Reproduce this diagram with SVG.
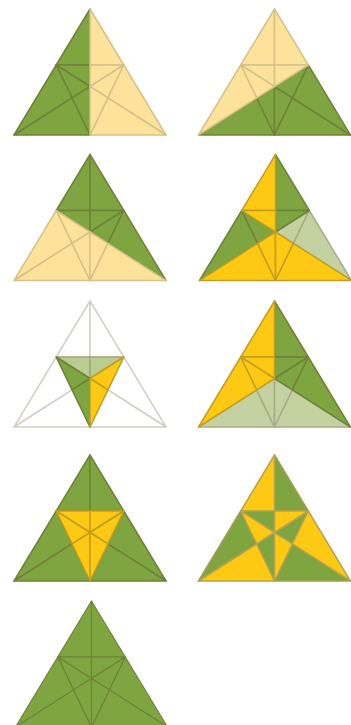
<svg xmlns="http://www.w3.org/2000/svg" width="351" height="725" viewBox="0 0 351 725">
<style>
use{stroke-width:1.5;stroke-linejoin:round}
.g{fill:#7ea53f;stroke:#6f8338}
.p{fill:#fde29b;stroke:#d6c288}
.y{fill:#fdc913;stroke:#c29f22}
.l{fill:#c3d2a0;stroke:#aaac88}
.m{fill:#bbcc90;stroke:#a3a882}
.w{fill:#fff;stroke:#d3cfc4}
.g8{fill:#7ea53f;stroke:#a49c58}
.y8{fill:#fdc913;stroke:#b5a34e}
.t{fill:#7ea53f;stroke:#6d8238;stroke-width:1.1}
</style>
<defs>
<polygon id="ALE" points="0,0 -33.8,56 0,56"/>
<polygon id="AER" points="0,0 0,56 33.8,56"/>
<polygon id="LEO" points="-33.8,56 0,56 0,77.5"/>
<polygon id="ERO" points="0,56 33.8,56 0,77.5"/>
<polygon id="LOP" points="-33.8,56 0,77.5 -17.9,88.9"/>
<polygon id="ROQ" points="33.8,56 0,77.5 17.9,88.9"/>
<polygon id="BLP" points="-76,126 -33.8,56 -17.9,88.9"/>
<polygon id="CRQ" points="76,126 33.8,56 17.9,88.9"/>
<polygon id="BPD" points="-76,126 -17.9,88.9 0,126"/>
<polygon id="CQD" points="76,126 17.9,88.9 0,126"/>
<polygon id="POD" points="-17.9,88.9 0,77.5 0,126"/>
<polygon id="QOD" points="17.9,88.9 0,77.5 0,126"/>
</defs>
<g id="panel-1" transform="translate(90,9)">
<use href="#ALE" class="g"/><use href="#LEO" class="g"/><use href="#LOP" class="g"/><use href="#BLP" class="g"/><use href="#BPD" class="g"/><use href="#POD" class="g"/>
<use href="#AER" class="p"/><use href="#ERO" class="p"/><use href="#ROQ" class="p"/><use href="#CRQ" class="p"/><use href="#CQD" class="p"/><use href="#QOD" class="p"/>
</g>
<g id="panel-2" transform="translate(274.5,9)">
<use href="#BPD" class="g"/><use href="#POD" class="g"/><use href="#QOD" class="g"/><use href="#CQD" class="g"/><use href="#CRQ" class="g"/><use href="#ROQ" class="g"/>
<use href="#ALE" class="p"/><use href="#AER" class="p"/><use href="#LEO" class="p"/><use href="#ERO" class="p"/><use href="#LOP" class="p"/><use href="#BLP" class="p"/>
</g>
<g id="panel-3" transform="translate(90,154.5)">
<use href="#ALE" class="g"/><use href="#AER" class="g"/><use href="#LEO" class="g"/><use href="#ERO" class="g"/><use href="#ROQ" class="g"/><use href="#CRQ" class="g"/>
<use href="#LOP" class="p"/><use href="#BLP" class="p"/><use href="#BPD" class="p"/><use href="#POD" class="p"/><use href="#QOD" class="p"/><use href="#CQD" class="p"/>
</g>
<g id="panel-4" transform="translate(275.5,154.5)">
<use href="#ROQ" class="l"/><use href="#CRQ" class="l"/>
<use href="#AER" class="g"/><use href="#ERO" class="g"/><use href="#BLP" class="g"/><use href="#LOP" class="g"/>
<use href="#ALE" class="y"/><use href="#LEO" class="y"/><use href="#BPD" class="y"/><use href="#POD" class="y"/><use href="#QOD" class="y"/><use href="#CQD" class="y"/>
</g>
<g id="panel-5" transform="translate(90,301)">
<use href="#ALE" class="w"/><use href="#AER" class="w"/><use href="#BLP" class="w"/><use href="#BPD" class="w"/><use href="#CRQ" class="w"/><use href="#CQD" class="w"/>
<use href="#LEO" class="m"/><use href="#ERO" class="m"/>
<use href="#LOP" class="g"/><use href="#POD" class="g"/>
<use href="#ROQ" class="y"/><use href="#QOD" class="y"/>
</g>
<g id="panel-6" transform="translate(274.5,301)">
<use href="#BPD" class="l"/><use href="#POD" class="l"/><use href="#QOD" class="l"/><use href="#CQD" class="l"/>
<use href="#AER" class="g"/><use href="#ERO" class="g"/><use href="#ROQ" class="g"/><use href="#CRQ" class="g"/>
<use href="#ALE" class="y"/><use href="#LEO" class="y"/><use href="#LOP" class="y"/><use href="#BLP" class="y"/>
</g>
<g id="panel-7" transform="translate(90,455)">
<use href="#ALE" class="g"/><use href="#AER" class="g"/><use href="#BLP" class="g"/><use href="#BPD" class="g"/><use href="#CRQ" class="g"/><use href="#CQD" class="g"/>
<use href="#LEO" class="y"/><use href="#ERO" class="y"/><use href="#LOP" class="y"/><use href="#ROQ" class="y"/><use href="#POD" class="y"/><use href="#QOD" class="y"/>
</g>
<g id="panel-8" transform="translate(274.5,455)">
<use href="#AER" class="g8"/><use href="#LEO" class="g8"/><use href="#ROQ" class="g8"/><use href="#BLP" class="g8"/><use href="#CQD" class="g8"/><use href="#POD" class="g8"/>
<use href="#ALE" class="y8"/><use href="#ERO" class="y8"/><use href="#LOP" class="y8"/><use href="#CRQ" class="y8"/><use href="#BPD" class="y8"/><use href="#QOD" class="y8"/>
</g>
<g id="panel-9" transform="translate(91.5,601)">
<use href="#ALE" class="t"/><use href="#AER" class="t"/><use href="#LEO" class="t"/><use href="#ERO" class="t"/><use href="#LOP" class="t"/><use href="#ROQ" class="t"/><use href="#BLP" class="t"/><use href="#CRQ" class="t"/><use href="#BPD" class="t"/><use href="#CQD" class="t"/><use href="#POD" class="t"/><use href="#QOD" class="t"/>
</g>
</svg>
